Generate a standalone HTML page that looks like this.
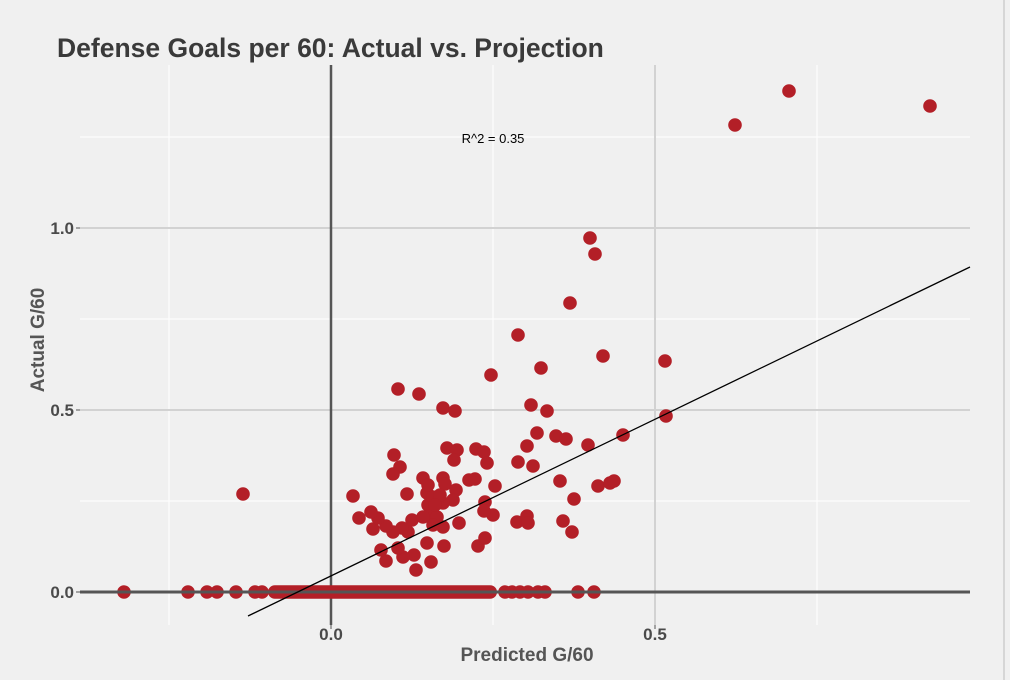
<!DOCTYPE html>
<html><head><meta charset="utf-8"><style>
body{margin:0;background:#f0f0f0;}
svg{display:block;font-family:"Liberation Sans",sans-serif;}
</style></head><body>
<svg width="1010" height="680" viewBox="0 0 1010 680">
<rect width="1010" height="680" fill="#f0f0f0"/>
<line x1="1004" y1="0" x2="1004" y2="680" stroke="#bbb" stroke-width="1"/>
<g stroke="#ffffff" stroke-width="1">
<line x1="169" y1="65" x2="169" y2="625"/><line x1="493" y1="65" x2="493" y2="625"/><line x1="817" y1="65" x2="817" y2="625"/>
<line x1="80" y1="137" x2="970" y2="137"/><line x1="80" y1="319" x2="970" y2="319"/><line x1="80" y1="501" x2="970" y2="501"/>
</g>
<g stroke="#d2d2d2" stroke-width="2">
<line x1="655" y1="65" x2="655" y2="625"/>
<line x1="80" y1="228" x2="970" y2="228"/><line x1="80" y1="410" x2="970" y2="410"/>
</g>
<line x1="331" y1="65" x2="331" y2="625" stroke="#555" stroke-width="2.5"/>
<g fill="#b31f27">
<circle cx="398" cy="389" r="6.8"/><circle cx="419" cy="394" r="6.8"/><circle cx="443" cy="408" r="6.8"/><circle cx="455" cy="411" r="6.8"/><circle cx="491" cy="375" r="6.8"/><circle cx="531" cy="405" r="6.8"/><circle cx="547" cy="411" r="6.8"/><circle cx="537" cy="433" r="6.8"/><circle cx="556" cy="436" r="6.8"/><circle cx="566" cy="439" r="6.8"/><circle cx="588" cy="445" r="6.8"/><circle cx="623" cy="435" r="6.8"/><circle cx="527" cy="446" r="6.8"/><circle cx="518" cy="462" r="6.8"/><circle cx="533" cy="466" r="6.8"/><circle cx="560" cy="481" r="6.8"/><circle cx="574" cy="499" r="6.8"/><circle cx="598" cy="486" r="6.8"/><circle cx="610" cy="483" r="6.8"/><circle cx="614" cy="481" r="6.8"/><circle cx="563" cy="521" r="6.8"/><circle cx="572" cy="532" r="6.8"/><circle cx="517" cy="522" r="6.8"/><circle cx="527" cy="516" r="6.8"/><circle cx="528" cy="523" r="6.8"/><circle cx="478" cy="546" r="6.8"/><circle cx="485" cy="538" r="6.8"/><circle cx="493" cy="515" r="6.8"/><circle cx="485" cy="502" r="6.8"/><circle cx="484" cy="511" r="6.8"/><circle cx="495" cy="486" r="6.8"/><circle cx="476" cy="449" r="6.8"/><circle cx="484" cy="452" r="6.8"/><circle cx="487" cy="463" r="6.8"/><circle cx="447" cy="448" r="6.8"/><circle cx="457" cy="450" r="6.8"/><circle cx="454" cy="460" r="6.8"/><circle cx="469" cy="480" r="6.8"/><circle cx="475" cy="479" r="6.8"/><circle cx="443" cy="478" r="6.8"/><circle cx="445" cy="484" r="6.8"/><circle cx="456" cy="490" r="6.8"/><circle cx="453" cy="500" r="6.8"/><circle cx="443" cy="503" r="6.8"/><circle cx="438" cy="498" r="6.8"/><circle cx="428" cy="505" r="6.8"/><circle cx="427" cy="493" r="6.8"/><circle cx="423" cy="478" r="6.8"/><circle cx="428" cy="485" r="6.8"/><circle cx="433" cy="497" r="6.8"/><circle cx="429" cy="516" r="6.8"/><circle cx="437" cy="517" r="6.8"/><circle cx="443" cy="527" r="6.8"/><circle cx="433" cy="525" r="6.8"/><circle cx="459" cy="523" r="6.8"/><circle cx="444" cy="546" r="6.8"/><circle cx="427" cy="543" r="6.8"/><circle cx="431" cy="562" r="6.8"/><circle cx="416" cy="570" r="6.8"/><circle cx="414" cy="555" r="6.8"/><circle cx="403" cy="557" r="6.8"/><circle cx="398" cy="548" r="6.8"/><circle cx="386" cy="561" r="6.8"/><circle cx="381" cy="550" r="6.8"/><circle cx="407" cy="494" r="6.8"/><circle cx="412" cy="520" r="6.8"/><circle cx="408" cy="532" r="6.8"/><circle cx="402" cy="528" r="6.8"/><circle cx="393" cy="532" r="6.8"/><circle cx="386" cy="526" r="6.8"/><circle cx="373" cy="529" r="6.8"/><circle cx="378" cy="518" r="6.8"/><circle cx="371" cy="512" r="6.8"/><circle cx="359" cy="518" r="6.8"/><circle cx="353" cy="496" r="6.8"/><circle cx="394" cy="455" r="6.8"/><circle cx="400" cy="467" r="6.8"/><circle cx="393" cy="474" r="6.8"/><circle cx="423" cy="517" r="6.8"/><circle cx="243" cy="494" r="6.8"/><circle cx="590" cy="238" r="6.8"/><circle cx="595" cy="254" r="6.8"/><circle cx="570" cy="303" r="6.8"/><circle cx="518" cy="335" r="6.8"/><circle cx="603" cy="356" r="6.8"/><circle cx="541" cy="368" r="6.8"/><circle cx="665" cy="361" r="6.8"/><circle cx="666" cy="416" r="6.8"/><circle cx="735" cy="125" r="6.8"/><circle cx="789" cy="91" r="6.8"/><circle cx="930" cy="106" r="6.8"/><circle cx="440" cy="495" r="6.8"/><circle cx="435" cy="505" r="6.8"/>
<circle cx="124" cy="592" r="6.8"/><circle cx="188" cy="592" r="6.8"/><circle cx="207" cy="592" r="6.8"/><circle cx="217" cy="592" r="6.8"/><circle cx="236" cy="592" r="6.8"/><circle cx="255" cy="592" r="6.8"/><circle cx="262" cy="592" r="6.8"/><circle cx="505" cy="592" r="6.8"/><circle cx="512" cy="592" r="6.8"/><circle cx="520" cy="592" r="6.8"/><circle cx="528" cy="592" r="6.8"/><circle cx="538" cy="592" r="6.8"/><circle cx="545" cy="592" r="6.8"/><circle cx="578" cy="592" r="6.8"/><circle cx="594" cy="592" r="6.8"/>
<rect x="268" y="585.2" width="229" height="13.6" rx="6.8"/>
</g>
<line x1="80" y1="592" x2="970" y2="592" stroke="#555" stroke-width="3"/>
<line x1="248" y1="616" x2="970" y2="267" stroke="#000" stroke-width="1.3"/>
<text x="493" y="143" font-size="13" text-anchor="middle" fill="#000">R^2 = 0.35</text>
<text x="57" y="57" font-size="26.5" font-weight="bold" fill="#3a3a3a">Defense Goals per 60: Actual vs. Projection</text>
<g font-size="17" fill="#4a4a4a" font-weight="bold" text-anchor="end">
<text x="74" y="234">1.0</text><text x="74" y="416">0.5</text><text x="74" y="598">0.0</text>
</g>
<g stroke="#555" stroke-width="1"><line x1="76" y1="228" x2="80" y2="228"/><line x1="76" y1="410" x2="80" y2="410"/><line x1="76" y1="592" x2="80" y2="592"/><line x1="331" y1="625" x2="331" y2="629"/><line x1="655" y1="625" x2="655" y2="629"/></g>
<g font-size="17" fill="#4a4a4a" font-weight="bold" text-anchor="middle">
<text x="331" y="640">0.0</text><text x="655" y="640">0.5</text>
</g>
<g font-size="19" fill="#555" font-weight="bold" text-anchor="middle">
<text x="527" y="661">Predicted G/60</text>
<text transform="translate(44,340) rotate(-90)">Actual G/60</text>
</g>
</svg>
</body></html>
